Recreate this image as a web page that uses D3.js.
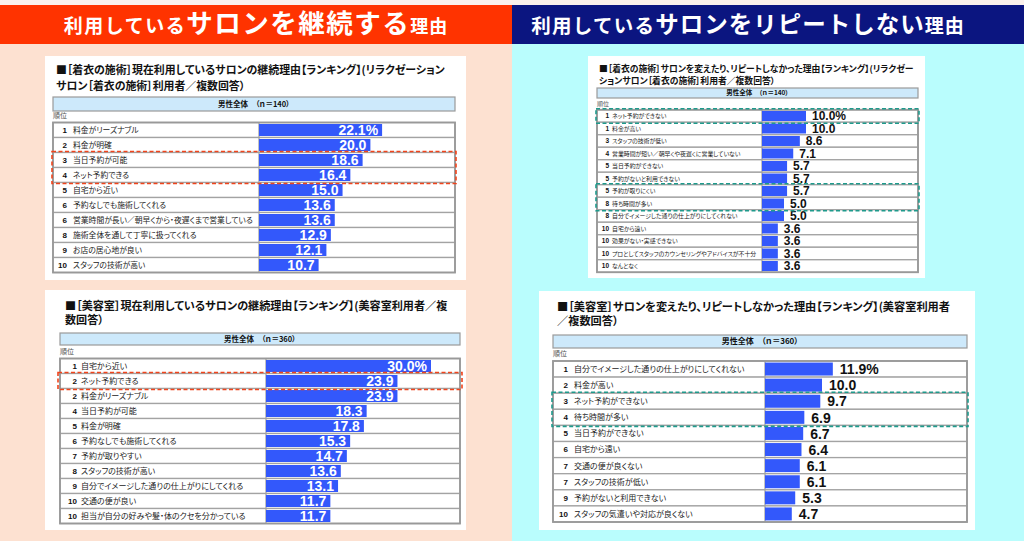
<!DOCTYPE html>
<html><head><meta charset="utf-8">
<script src="https://cdn.jsdelivr.net/npm/d3@7"></script>
<style>
html,body{margin:0;padding:0;background:#fff;}
svg text{font-family:"Noto Sans CJK JP","Noto Sans",sans-serif;font-feature-settings:"palt";}
.num{font-family:"Liberation Sans",Arial,sans-serif;font-feature-settings:normal;}
</style>
</head><body>
<svg id="c" width="1024" height="541"></svg>
<script>
// ---------- DATA ----------
const kimonoContinueRanks = [1,2,3,4,5,6,6,8,9,10];
const kimonoContinueLabels = ["料金がリーズナブル","料金が明確","当日予約が可能","ネット予約できる","自宅から近い","予約なしでも施術してくれる","営業時間が長い／朝早くから・夜遅くまで営業している","施術全体を通して丁寧に扱ってくれる","お店の居心地が良い","スタッフの技術が高い"];
const kimonoContinueValues = [22.1,20.0,18.6,16.4,15.0,13.6,13.6,12.9,12.1,10.7];

const hairContinueRanks = [1,2,2,4,5,6,7,8,9,10,10];
const hairContinueLabels = ["自宅から近い","ネット予約できる","料金がリーズナブル","当日予約が可能","料金が明確","予約なしでも施術してくれる","予約が取りやすい","スタッフの技術が高い","自分でイメージした通りの仕上がりにしてくれる","交通の便が良い","担当が自分の好みや髪・体のクセを分かっている"];
const hairContinueValues = [30.0,23.9,23.9,18.3,17.8,15.3,14.7,13.6,13.1,11.7,11.7];

const kimonoQuitRanks = [1,1,3,4,5,5,5,8,8,10,10,10,10];
const kimonoQuitLabels = ["ネット予約ができない","料金が高い","スタッフの技術が低い","営業時間が短い／朝早くや夜遅くに営業していない","当日予約ができない","予約がないと利用できない","予約が取りにくい","待ち時間が多い","自分でイメージした通りの仕上がりにしてくれない","自宅から遠い","効果がない・実感できない","プロとしてスタッフのカウンセリングやアドバイスが不十分","なんとなく"];
const kimonoQuitValues = [10.0,10.0,8.6,7.1,5.7,5.7,5.7,5.0,5.0,3.6,3.6,3.6,3.6];

const hairQuitRanks = [1,2,3,4,5,6,7,7,9,10];
const hairQuitLabels = ["自分でイメージした通りの仕上がりにしてくれない","料金が高い","ネット予約ができない","待ち時間が多い","当日予約ができない","自宅から遠い","交通の便が良くない","スタッフの技術が低い","予約がないと利用できない","スタッフの気遣いや対応が良くない"];
const hairQuitValues = [11.9,10.0,9.7,6.9,6.7,6.4,6.1,6.1,5.3,4.7];

const titleKimonoContinue = ["■［着衣の施術］現在利用しているサロンの継続理由【ランキング】(リラクゼーション","サロン［着衣の施術］利用者／複数回答）"];
const titleHairContinue = ["■［美容室］現在利用しているサロンの継続理由【ランキング】(美容室利用者／複","数回答）"];
const titleKimonoQuit = ["■［着衣の施術］サロンを変えたり、リピートしなかった理由【ランキング】(リラクゼー","ションサロン［着衣の施術］利用者／複数回答）"];
const titleHairQuit = ["■［美容室］サロンを変えたり、リピートしなかった理由【ランキング】(美容室利用者","／複数回答）"];
const headerKimono = "男性全体　（ｎ＝140）";
const headerHair = "男性全体　（ｎ＝360）";

// ---------- DRAW ----------
const svg = d3.select("#c");
const RED = "#ff3300", NAVY = "#0b1580", BAR = "#3358fb";

svg.append("rect").attr("x",0).attr("y",0).attr("width",512).attr("height",541).attr("fill","#fde1d1");
svg.append("rect").attr("x",512).attr("y",0).attr("width",512).attr("height",541).attr("fill","#b9fdfd");
svg.append("rect").attr("x",0).attr("y",0).attr("width",1024).attr("height",5).attr("fill","#fbf1ec");
svg.append("rect").attr("x",0).attr("y",5).attr("width",512).attr("height",39).attr("fill",RED);
svg.append("rect").attr("x",512).attr("y",5).attr("width",512).attr("height",39).attr("fill",NAVY);

function banner(cx, parts){
  const t = svg.append("text").attr("x",cx).attr("y",33).attr("text-anchor","middle")
    .attr("fill","#fff").attr("font-weight",700).style("font-feature-settings","normal");
  parts.forEach(p=>t.append("tspan").attr("font-size",p[1]).attr("letter-spacing",p[2]).text(p[0]));
}
banner(256, [["利用している",19,1.5],["サロンを継続する",26.5,1.5],["理由",18,1]]);
banner(748, [["利用している",19.5,1.3],["サロンをリピートしない",23.5,1],["理由",19,1]]);

function chart(cfg, ranks, labels, values, titles, header){
  const g = svg.append("g");
  g.append("rect").attr("x",cfg.px).attr("y",cfg.py).attr("width",cfg.pw).attr("height",cfg.ph)
    .attr("fill","#fff");
  titles.forEach((t,i)=>g.append("text").attr("x",cfg.tx).attr("y",cfg.ty[i])
    .attr("font-size",cfg.ts).attr("font-weight",700).attr("fill","#111").text(t));
  // header
  g.append("rect").attr("x",cfg.x1).attr("y",cfg.hy).attr("width",cfg.x2-cfg.x1).attr("height",cfg.hh)
    .attr("fill","#cde9fb").attr("stroke","#9a9a9a").attr("stroke-width",1.2);
  g.append("text").attr("x",(cfg.x1+cfg.x2)/2).attr("y",cfg.hy+cfg.hh/2).attr("dy","0.36em")
    .attr("text-anchor","middle").attr("font-size",cfg.hs).attr("font-weight",700).attr("fill","#111").text(header);
  g.append("text").attr("x",cfg.x1).attr("y",cfg.jy).attr("dy","0.35em")
    .attr("font-size",cfg.js).attr("fill","#555").text("順位");

  const n = values.length;
  const y = d3.scaleBand().domain(d3.range(n)).range([cfg.top, cfg.top + n*cfg.rh]).paddingInner(0);
  const x = d3.scaleLinear().domain([0,10]).range([cfg.bx, cfg.bx + 10*cfg.k]);
  const bh = cfg.bh;
  // rows
  g.selectAll(".row").data(d3.range(n)).join("rect")
    .attr("x",cfg.x1).attr("y",i=>y(i)).attr("width",cfg.x2-cfg.x1).attr("height",y.bandwidth())
    .attr("fill","#fff").attr("stroke","#a3a3a3").attr("stroke-width",1.3);
  g.append("line").attr("x1",cfg.bx).attr("x2",cfg.bx).attr("y1",cfg.top).attr("y2",cfg.top+n*cfg.rh)
    .attr("stroke","#a3a3a3").attr("stroke-width",1.3);
  g.append("rect").attr("x",cfg.x1).attr("y",cfg.top).attr("width",cfg.x2-cfg.x1).attr("height",n*cfg.rh)
    .attr("fill","none").attr("stroke","#999").attr("stroke-width",1.8);
  // bars
  g.selectAll(".bar").data(values).join("rect")
    .attr("x",x(0)).attr("y",(d,i)=>y(i)+(y.bandwidth()-bh)/2)
    .attr("width",d=>x(d)-x(0)).attr("height",bh).attr("fill",BAR);
  // ranks & labels
  g.selectAll(".rk").data(ranks).join("text").attr("class","num")
    .attr("x",cfg.rx).attr("y",(d,i)=>y(i)+y.bandwidth()/2).attr("dy","0.36em")
    .attr("text-anchor","end").attr("font-size",cfg.rs).attr("font-weight",700).attr("fill","#111").text(d=>d);
  g.selectAll(".lb").data(labels).join("text")
    .attr("x",cfg.lx).attr("y",(d,i)=>y(i)+y.bandwidth()/2).attr("dy","0.36em")
    .attr("font-size",cfg.ls).attr("fill","#222").text(d=>d);
  // values
  g.selectAll(".vl").data(values).join("text").attr("class","num")
    .attr("x",d=> cfg.inside ? x(d)-cfg.vo : x(d)+cfg.vo)
    .attr("y",(d,i)=>y(i)+y.bandwidth()/2).attr("dy","0.37em")
    .attr("text-anchor",cfg.inside?"end":"start")
    .attr("font-size",cfg.vs).attr("font-weight",700).attr("fill",cfg.inside?"#fff":"#111")
    .text((d,i)=> d.toFixed(1) + (i===0?"%":""));
  // highlight boxes
  cfg.boxes.forEach(b=>{
    g.append("rect").attr("x",cfg.x1+b.dx1).attr("y",y(b.from)-1)
      .attr("width",cfg.x2-cfg.x1+b.dx2-b.dx1).attr("height",y(b.to)+y.bandwidth()-y(b.from)+2)
      .attr("fill","none").attr("stroke",cfg.boxColor).attr("stroke-width",1.6).attr("stroke-dasharray","4,2.5");
  });
}

chart({px:45,py:56,pw:421,ph:224, tx:56,ty:[74,90],ts:10.9, x1:53,x2:455,hy:97,hh:14,hs:7.5,
  jy:116,js:7, top:122.5,rh:15, bx:259,k:5.57,bh:12, rx:67,rs:8,lx:73,ls:7.8,
  inside:true,vo:4,vs:14, boxColor:"#f0441c", boxes:[{from:2,to:3,dx1:-1,dx2:1}]},
  kimonoContinueRanks,kimonoContinueLabels,kimonoContinueValues,titleKimonoContinue,headerKimono);

chart({px:45,py:290,pw:421,ph:240, tx:65,ty:[310,324],ts:11.1, x1:60,x2:460,hy:333,hh:12,hs:7.5,
  jy:352,js:7, top:358.5,rh:15, bx:266,k:5.5,bh:12, rx:77,rs:8,lx:81,ls:8,
  inside:true,vo:4,vs:14, boxColor:"#f0441c", boxes:[{from:1,to:1,dx1:-2,dx2:2}]},
  hairContinueRanks,hairContinueLabels,hairContinueValues,titleHairContinue,headerHair);

chart({px:588,py:56,pw:337,ph:222, tx:599,ty:[72,84],ts:8.8, x1:597,x2:918,hy:88,hh:10,hs:6.5,
  jy:104,js:6, top:109.75,rh:12.5, bx:762,k:4.4,bh:10, rx:609,rs:6.5,lx:612,ls:5.9,
  inside:false,vo:6,vs:12, boxColor:"#1f9a8c", boxes:[{from:0,to:0,dx1:-1,dx2:1},{from:6,to:7,dx1:-1,dx2:1}]},
  kimonoQuitRanks,kimonoQuitLabels,kimonoQuitValues,titleKimonoQuit,headerKimono);

chart({px:539,py:291,pw:436,ph:239, tx:557,ty:[311,325],ts:11.2, x1:553,x2:967,hy:335,hh:13,hs:8,
  jy:354,js:7, top:361,rh:16.1, bx:765,k:5.7,bh:13, rx:568,rs:8,lx:574,ls:8,
  inside:false,vo:7,vs:14, boxColor:"#1f9a8c", boxes:[{from:2,to:3,dx1:-1,dx2:1}]},
  hairQuitRanks,hairQuitLabels,hairQuitValues,titleHairQuit,headerHair);
</script>
</body></html>
